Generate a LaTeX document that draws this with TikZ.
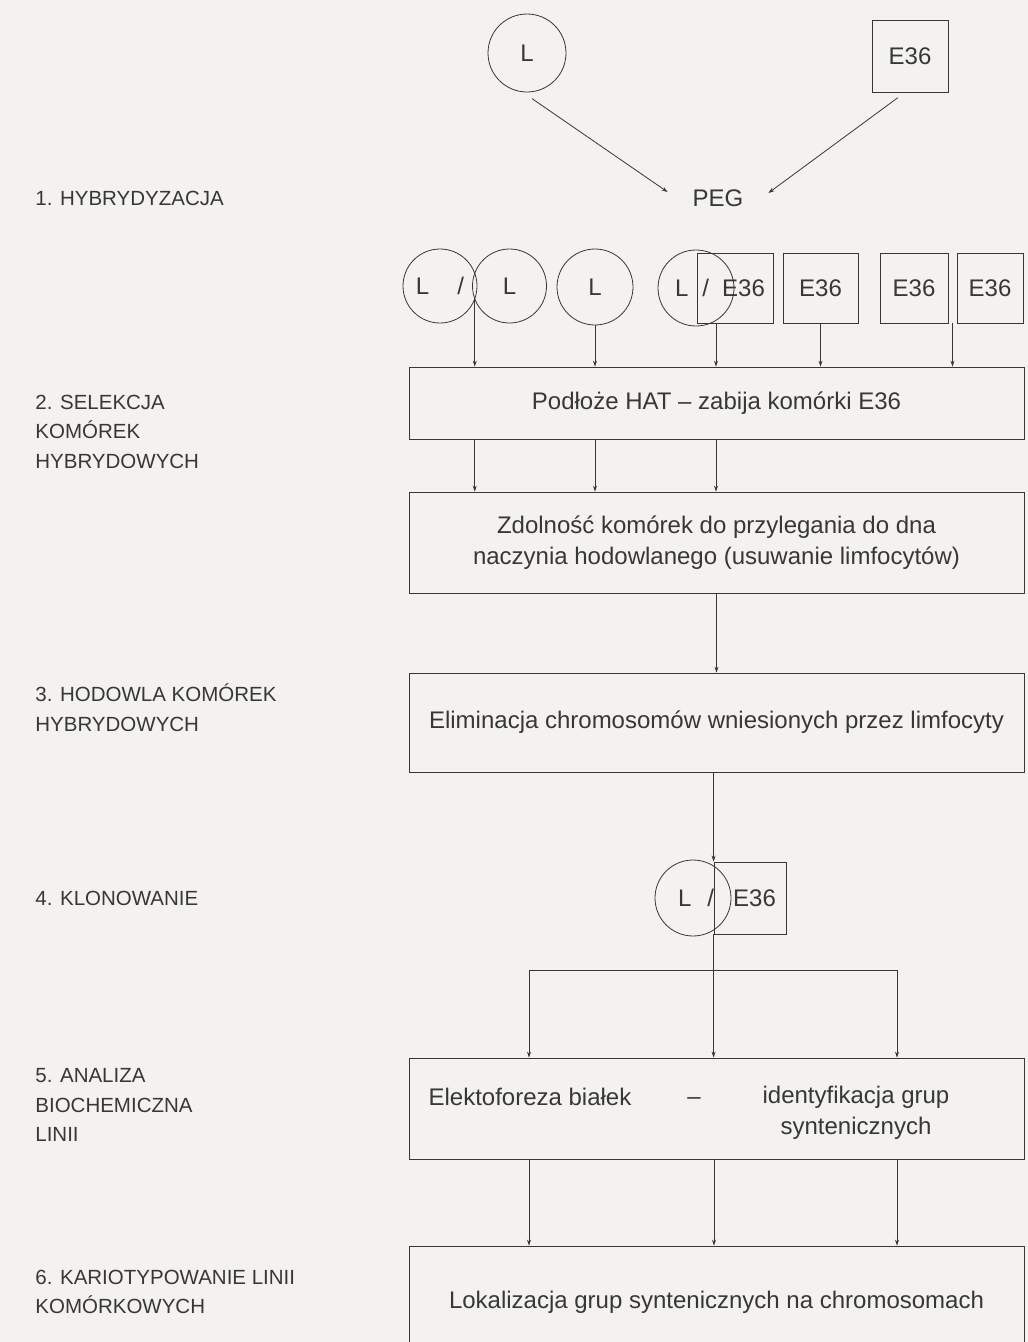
\documentclass[tikz,border=0pt]{standalone}
\usepackage{fontspec}
\setmainfont{Liberation Sans}
\usepackage{tikz}
\usetikzlibrary{positioning}
\usetikzlibrary{calc, arrows.meta}
\usepackage{xcolor}
\definecolor{paper}{RGB}{243,242,238}
\definecolor{ink}{RGB}{55,55,55}

\begin{document}
\begin{tikzpicture}[
        x=1pt, y=-1pt,
        cell/.style={circle, draw=ink, line width=0.8pt, minimum size=76pt, inner sep=0pt},
        sq/.style={rectangle, draw=ink, line width=0.8pt, minimum width=76pt, minimum height=70pt, inner sep=0pt},
        stage/.style={rectangle, draw=ink, line width=0.8pt, minimum width=615pt, align=center, inner sep=0pt},
        lbl/.style={anchor=west, align=left, inner sep=0pt, font=\fontsize{20.5}{29.5}\selectfont},
        color=ink, line width=0.8pt,
        font=\fontsize{24}{30}\selectfont,
        ->, >={Stealth[length=6pt,width=4pt]}
    ]
        \clip (0,0) rectangle (1028,1342);
        \fill[paper] (0,0) rectangle (1028,1342);

        \node[cell, minimum size=78pt] (L) at (527,53) {L};
        \node[sq, minimum height=72pt] (E) at (910,56) {E36};
        \node[minimum width=100pt] (PEG) at (718,198) {PEG};
        \path ([xshift=-4pt]L.south) edge[shorten <=11pt] ([yshift=6pt]PEG.west)
            ([xshift=-5pt]E.south) edge[shorten <=9pt] ([yshift=5pt]PEG.east);

        \node[cell, minimum size=74pt] (L1) at (440,286) {L\hspace{28pt}/};
        \node[cell, minimum size=74pt] (L2) at (509.5,286) {L};
        \node[cell] (L3) at (595,287) {L};
        \node[sq] (E1) at (735,288) {};
        \node[cell] (L4) at (696,288) {};
        \node (L4E1) at (720,288) {L\hspace{14pt}/\hspace{13pt}E36};
        \node[sq, minimum width=75pt] (E2) at (820.5,288) {E36};
        \node[sq, minimum width=68pt] (E3) at (914,288) {E36};
        \node[sq, minimum width=66pt] (E4) at (990,288) {E36};

        \node[stage, minimum height=72pt] (HAT) at (716.5,403) {Podłoże HAT – zabija komórki E36};
        \node[stage, minimum height=101pt, font=\fontsize{24}{31}\selectfont] (ADH) at (716.5,542.5)
            {Zdolność komórek do przylegania do dna\\naczynia hodowlanego (usuwanie limfocytów)};
        \node[stage, minimum height=99pt] (ELIM) at (716.5,722.5) {Eliminacja chromosomów wniesionych przez limfocyty};

        \coordinate (L12) at (474.75,299);
        \coordinate (LE) at (716,323);
        \coordinate (E34) at ($(E3.south east)!.5!(E4.south west)$);
        \path (L12) edge (L12 |- HAT.north)
            (L3) edge (L3 |- HAT.north)
            (LE) edge (LE |- HAT.north)
            (E2) edge (E2 |- HAT.north)
            (E34) edge (E34 |- HAT.north)
            (L12 |- HAT.south) edge (L12 |- ADH.north)
            (L3 |- HAT.south) edge (L3 |- ADH.north)
            (LE |- HAT.south) edge (LE |- ADH.north)
            (ADH) edge (ELIM);

        \node[sq, minimum width=72pt, minimum height=72pt] (E5) at (750,898) {};
        \node[cell] (L5) at (693,898) {};
        \node (L5E5) at (727,898) {L\hspace{16pt}/\hspace{19pt}E36};

        \node[stage, minimum height=101pt] (ANA) at (716.5,1108.5) {};
        \node (ANA1) at (530,1097) {Elektoforeza białek};
        \node (ANA2) at (694,1101) {–};
        \node[align=center, font=\fontsize{24}{31}\selectfont] (ANA3) at (856,1112.5) {identyfikacja grup\\syntenicznych};
        \node[stage, minimum height=112pt] (KAR) at (716.5,1302) {Lokalizacja grup syntenicznych na chromosomach};

        \coordinate (fork) at (714,970);
        \coordinate (forkL) at (529,970);
        \coordinate (forkR) at (897,970);
        \path (E5.north west |- ELIM.south) edge (E5.north west)
            (E5.south west) edge (E5.south west |- ANA.north)
            (forkL |- ANA.south) edge (forkL |- KAR.north)
            (fork |- ANA.south) edge (fork |- KAR.north)
            (forkR |- ANA.south) edge (forkR |- KAR.north);
        \draw[<->] (ANA.north -| forkL) |- (fork) -| (ANA.north -| forkR);

        \node[lbl] (s1) at (35,198) {1. HYBRYDYZACJA};
        \node[lbl] (s2) at (35,431.5) {2. SELEKCJA\\KOMÓREK\\HYBRYDOWYCH};
        \node[lbl] (s3) at (35,707.5) {3. HODOWLA KOMÓREK\\HYBRYDOWYCH};
        \node[lbl] (s4) at (35,898) {4. KLONOWANIE};
        \node[lbl] (s5) at (35,1105) {5. ANALIZA\\BIOCHEMICZNA\\LINII};
        \node[lbl] (s6) at (35,1292) {6. KARIOTYPOWANIE LINII\\KOMÓRKOWYCH};
    \end{tikzpicture}
\end{document}
